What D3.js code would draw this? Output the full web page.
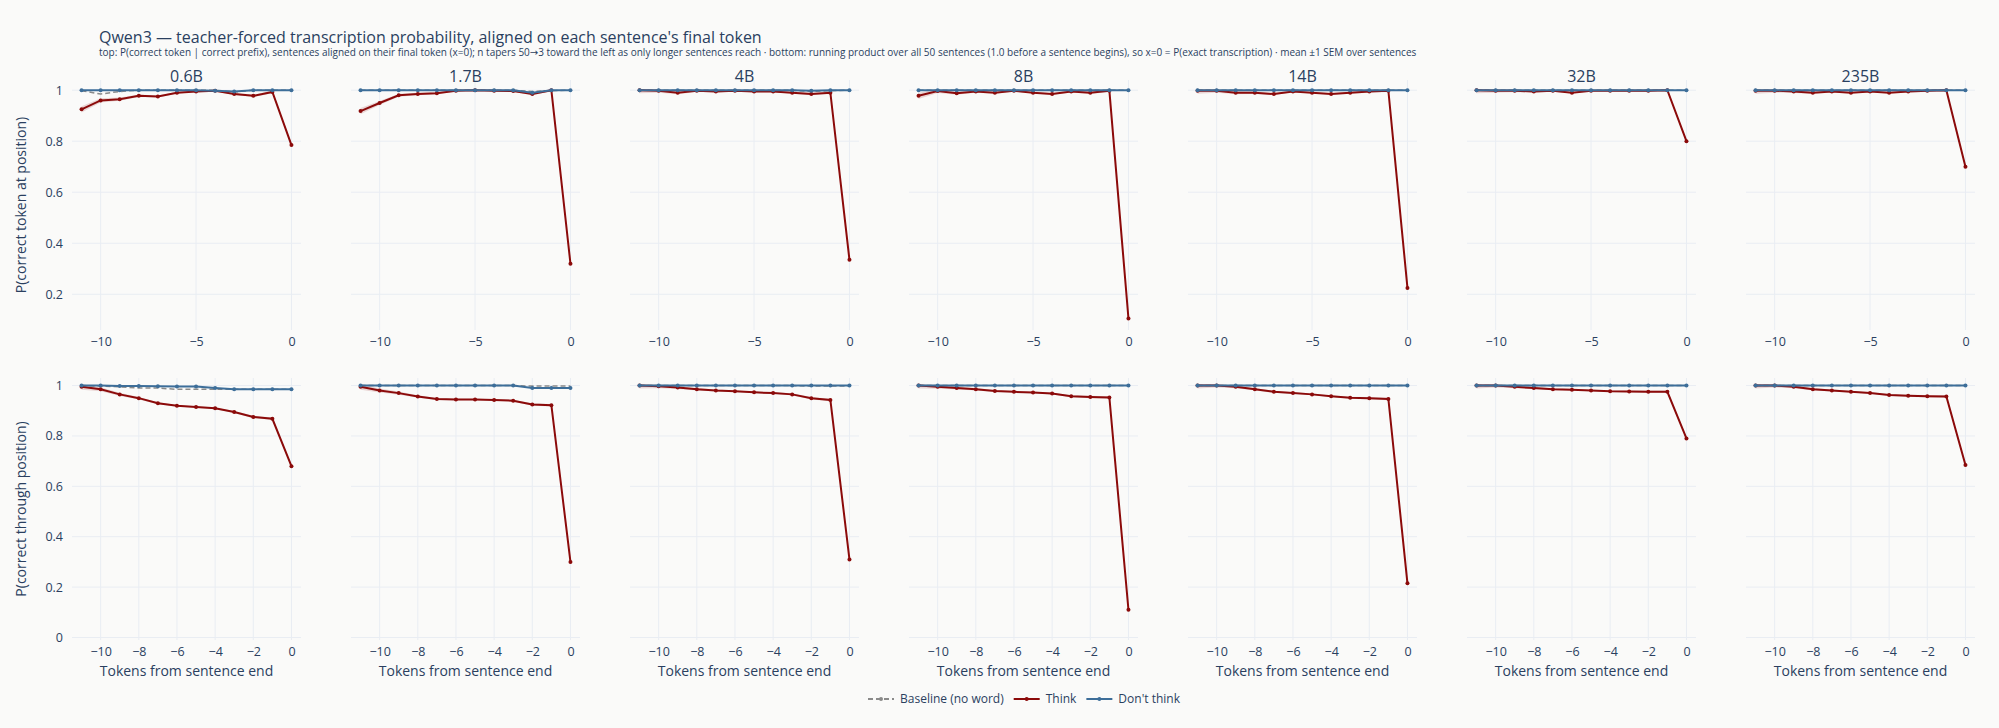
<!DOCTYPE html>
<html>
<head>
<meta charset="utf-8">
<script src="https://cdn.jsdelivr.net/npm/d3@7"></script>
<style>
body{margin:0;background:#fafaf9;font-family:"Open Sans","DejaVu Sans",sans-serif;}
</style>
</head>
<body>
<script>
// data
var models = ["0.6B","1.7B","4B","8B","14B","32B","235B"];
var positions = [-11,-10,-9,-8,-7,-6,-5,-4,-3,-2,-1,0];

var thinkTop = [
  [0.925,0.96,0.965,0.978,0.975,0.99,0.995,0.998,0.985,0.978,0.993,0.785],
  [0.918,0.95,0.98,0.985,0.988,0.998,1,0.998,0.997,0.985,1,0.32],
  [1,0.998,0.99,0.998,0.995,0.998,0.995,0.995,0.99,0.985,0.99,0.335],
  [0.978,0.997,0.988,0.995,0.99,0.998,0.99,0.985,0.995,0.99,0.998,0.105],
  [0.998,0.998,0.99,0.99,0.985,0.995,0.99,0.985,0.99,0.995,0.998,0.225],
  [1,0.998,0.998,0.995,0.998,0.99,0.998,0.998,0.998,0.998,1,0.80],
  [0.998,0.998,0.995,0.99,0.995,0.99,0.995,0.99,0.995,0.998,1,0.70]
];
var dontTop = [
  [1,1,1,1,1,1,1,0.998,0.995,1,1,1],
  [1,1,1,1,1,1,1,1,1,0.99,1,1],
  [1,1,1,1,1,1,1,1,1,0.998,1,1],
  [1,1,1,1,1,1,1,1,1,1,1,1],
  [1,1,1,1,1,1,1,1,1,1,1,1],
  [1,1,1,1,1,1,1,1,1,1,1,1],
  [1,1,1,1,1,1,1,1,1,1,1,1]
];
var baseTop = [
  [0.998,0.985,0.995,1,1,1,1,1,0.993,1,1,1],
  [1,1,1,1,1,1,1,1,1,0.995,0.998,1],
  [1,1,1,1,1,1,1,1,1,0.995,0.998,1],
  [1,1,1,1,1,1,1,1,1,1,1,1],
  [1,1,1,1,1,1,1,1,1,1,1,1],
  [1,1,1,1,1,1,1,1,1,1,1,1],
  [1,1,1,1,1,1,1,1,1,1,1,1]
];
var thinkBot = [
  [0.995,0.985,0.965,0.95,0.93,0.92,0.915,0.91,0.895,0.875,0.868,0.68],
  [0.995,0.98,0.97,0.957,0.947,0.945,0.945,0.943,0.94,0.925,0.922,0.30],
  [1,0.997,0.992,0.985,0.98,0.977,0.973,0.97,0.965,0.95,0.943,0.31],
  [1,0.995,0.99,0.985,0.978,0.975,0.972,0.968,0.958,0.955,0.953,0.11],
  [1,1,0.995,0.985,0.975,0.97,0.965,0.958,0.952,0.95,0.947,0.215],
  [1,1,0.995,0.99,0.985,0.983,0.98,0.977,0.976,0.975,0.975,0.79],
  [1,1,0.995,0.985,0.98,0.975,0.97,0.963,0.96,0.958,0.957,0.685]
];
var dontBot = [
  [1,1,0.998,0.998,0.997,0.996,0.996,0.99,0.985,0.985,0.985,0.985],
  [1,1,1,1,1,1,1,1,1,0.99,0.99,0.99],
  [1,1,1,1,1,1,1,1,1,1,1,1],
  [1,1,1,1,1,1,1,1,1,1,1,1],
  [1,1,1,1,1,1,1,1,1,1,1,1],
  [1,1,1,1,1,1,1,1,1,1,1,1],
  [1,1,1,1,1,1,1,1,1,1,1,1]
];
var baseBot = [
  [1,0.998,0.995,0.99,0.99,0.985,0.985,0.985,0.985,0.985,0.985,0.985],
  [1,1,1,1,1,1,1,1,1,0.998,0.998,0.998],
  [1,1,1,1,1,1,1,1,1,0.998,0.998,0.998],
  [1,1,1,1,1,1,1,1,1,1,1,1],
  [1,1,1,1,1,1,1,1,1,1,1,1],
  [1,1,1,1,1,1,1,1,1,1,1,1],
  [1,1,1,1,1,1,1,1,1,1,1,1]
];
// rough SEM of the think curve by position
var thinkSem = [0.012,0.008,0.006,0.005,0.004,0.003,0.003,0.003,0.004,0.005,0.005,0.006];
var topTicks = [-10,-5,0];
var botTicks = [-10,-8,-6,-4,-2,0];
var topYTicks = [0.2,0.4,0.6,0.8,1];
var botYTicks = [0,0.2,0.4,0.6,0.8,1];

var W = 1999, H = 728;
var C_THINK = "#8b0a0a", C_DONT = "#3d6e99", C_BASE = "#8a8a8a";
var TXT = "#2a3f5f", GRID = "#e9edf3";

var svg = d3.select("body").append("svg").attr("width",W).attr("height",H);

svg.append("text").attr("x",99).attr("y",43).attr("font-size",16).attr("fill",TXT)
  .text("Qwen3 — teacher-forced transcription probability, aligned on each sentence's final token");
svg.append("text").attr("x",99).attr("y",56).attr("font-size",10).attr("fill",TXT)
  .text("top: P(correct token | correct prefix), sentences aligned on their final token (x=0); n tapers 50→3 toward the left as only longer sentences reach · bottom: running product over all 50 sentences (1.0 before a sentence begins), so x=0 = P(exact transcription) · mean ±1 SEM over sentences");

var pitch = 279, pw = 229, left0 = 72;
var rows = [
  {top:80, bottom:330, dom:[0.06,1.04], yt:topYTicks, xt:topTicks, think:thinkTop, dont:dontTop, base:baseTop,
   ylab:"P(correct token at position)", xlab:false},
  {top:378, bottom:640, dom:[-0.01,1.03], yt:botYTicks, xt:botTicks, think:thinkBot, dont:dontBot, base:baseBot,
   ylab:"P(correct through position)", xlab:true}
];

rows.forEach(function(r, ri){
  var y = d3.scaleLinear().domain(r.dom).range([r.bottom, r.top]);
  svg.append("text").attr("transform","translate(26,"+((r.top+r.bottom)/2)+") rotate(-90)")
    .attr("text-anchor","middle").attr("font-size",14).attr("fill",TXT).text(r.ylab);

  models.forEach(function(m, mi){
    var x0 = left0 + mi*pitch;
    var x = d3.scaleLinear().domain([-11.5,0.5]).range([x0, x0+pw]);
    var g = svg.append("g");
    // grid
    g.selectAll(".gx").data(r.xt).enter().append("line")
      .attr("x1",d=>x(d)).attr("x2",d=>x(d)).attr("y1",r.top).attr("y2",r.bottom)
      .attr("stroke",GRID);
    g.selectAll(".gy").data(r.yt).enter().append("line")
      .attr("x1",x0).attr("x2",x0+pw).attr("y1",d=>y(d)).attr("y2",d=>y(d))
      .attr("stroke",GRID);
    // axes
    var ax = g.append("g").attr("transform","translate(0,"+(r.bottom+4)+")")
      .call(d3.axisBottom(x).tickValues(r.xt).tickSize(0).tickFormat(d=>d<0?"−"+(-d):d));
    ax.select(".domain").remove();
    ax.selectAll("text").attr("font-size",12.5).attr("fill",TXT).attr("font-family","Open Sans, sans-serif");
    if(mi==0){
      var ay = g.append("g").attr("transform","translate("+(x0-6)+",0)")
        .call(d3.axisLeft(y).tickValues(r.yt).tickSize(0).tickFormat(d3.format("~g")));
      ay.select(".domain").remove();
      ay.selectAll("text").attr("font-size",12.5).attr("fill",TXT).attr("font-family","Open Sans, sans-serif");
    }
    if(ri==0){
      g.append("text").attr("x",x0+pw/2).attr("y",r.top+2).attr("text-anchor","middle")
        .attr("font-size",16).attr("fill",TXT).text(m);
    }
    if(r.xlab){
      g.append("text").attr("x",x0+pw/2).attr("y",r.bottom+36).attr("text-anchor","middle")
        .attr("font-size",14).attr("fill",TXT).text("Tokens from sentence end");
    }
    var line = d3.line().x((d,i)=>x(positions[i])).y(d=>y(d));
    var area = d3.area().x((d,i)=>x(positions[i]))
      .y0((d,i)=>y(d-thinkSem[i])).y1((d,i)=>y(Math.min(d+thinkSem[i],1.005)));
    g.append("path").datum(r.think[mi]).attr("d",area).attr("fill",C_THINK).attr("opacity",0.15);
    g.append("path").datum(r.base[mi]).attr("d",line).attr("fill","none")
      .attr("stroke",C_BASE).attr("stroke-width",1.5).attr("stroke-dasharray","5,3");
    [[r.think[mi],C_THINK],[r.dont[mi],C_DONT]].forEach(function(s){
      g.append("path").datum(s[0]).attr("d",line).attr("fill","none")
        .attr("stroke",s[1]).attr("stroke-width",2);
      g.selectAll(null).data(s[0]).enter().append("circle")
        .attr("cx",(d,i)=>x(positions[i])).attr("cy",d=>y(d)).attr("r",2).attr("fill",s[1]);
    });
  });
});

// legend
var legend = [["Baseline (no word)",C_BASE,true],["Think",C_THINK,false],["Don't think",C_DONT,false]];
var lx = 868, ly = 699;
legend.forEach(function(l){
  var g = svg.append("g").attr("transform","translate("+lx+","+ly+")");
  g.append("line").attr("x1",0).attr("x2",26).attr("stroke",l[1]).attr("stroke-width",2)
    .attr("stroke-dasharray",l[2]?"5,3":null);
  g.append("circle").attr("cx",13).attr("r",2).attr("fill",l[1]);
  var t = g.append("text").attr("x",32).attr("y",4).attr("font-size",12).attr("fill",TXT).text(l[0]);
  lx += 32 + t.node().getComputedTextLength() + 10;
});
</script>
</body>
</html>
